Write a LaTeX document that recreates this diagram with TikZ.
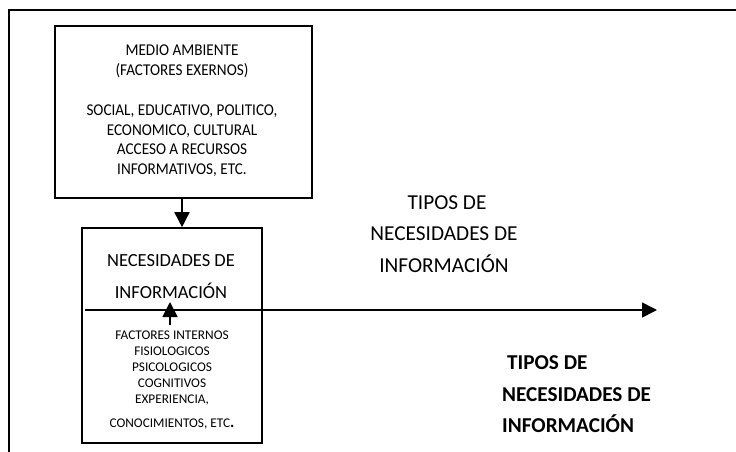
\documentclass[tikz,border=0pt]{standalone}
\usepackage{fontspec}
\setmainfont{Carlito}
\newfontfamily\topfont{Carlito}[FakeStretch=0.92]
\usetikzlibrary{arrows.meta}
\tikzset{
  boxnode/.style={draw, line width=1.6pt, inner sep=0pt},
  linetxt/.style={inner sep=0pt, anchor=base},
  boldtxt/.style={inner sep=0pt, anchor=base west, font=\fontsize{21.2}{25}\selectfont\bfseries},
  rtxt/.style={linetxt, font=\fontsize{21.3}{25}\selectfont},
  toptxt/.style={linetxt, font=\topfont\fontsize{16.5}{19.5}\selectfont},
  bigtxt/.style={linetxt, font=\fontsize{18.5}{22}\selectfont},
  smalltxt/.style={linetxt, font=\fontsize{13.3}{16}\selectfont},
  conn/.style={line width=1.6pt, -{Triangle[length=15pt,width=15pt]}},
}
\begin{document}
\begin{tikzpicture}[x=1pt,y=-1pt]
\useasboundingbox (0,0) rectangle (736,452);
% outer frame (open at right and bottom)
\coordinate (fa) at (9,452);
\coordinate (fb) at (9,10);
\coordinate (fc) at (740,10);
\draw[line width=1.8pt] (fa) -- (fb) -- (fc);
% boxes
\node[boxnode, minimum width=257pt, minimum height=172pt] (env) at (183.5,112) {};
\node[boxnode, minimum width=180pt, minimum height=215pt] (nec) at (172,335.5) {};
% top box text
\node[toptxt] (t1) at (182,55.5) {MEDIO AMBIENTE};
\node[toptxt] (t2) at (182,75.5) {(FACTORES EXERNOS)};
\node[toptxt] (t3) at (182,115.5) {SOCIAL, EDUCATIVO, POLITICO,};
\node[toptxt] (t4) at (182,135) {ECONOMICO, CULTURAL};
\node[toptxt] (t5) at (182,154.5) {ACCESO A RECURSOS};
\node[toptxt] (t6) at (182,174) {INFORMATIVOS, ETC.};
% second box text
\node[bigtxt] (n1) at (171,266.8) {NECESIDADES DE};
\node[bigtxt] (n2) at (171,298.7) {INFORMACIÓN};
\node[smalltxt] (s1) at (172,339.3) {FACTORES INTERNOS};
\node[smalltxt] (s2) at (172,355.3) {FISIOLOGICOS};
\node[smalltxt] (s3) at (172,371.3) {PSICOLOGICOS};
\node[smalltxt] (s4) at (172,387.3) {COGNITIVOS};
\node[smalltxt] (s5) at (172,403.3) {EXPERIENCIA,};
\node[smalltxt] (s6) at (172,427) {CONOCIMIENTOS, ETC{\fontsize{16}{16}\selectfont\bfseries .}};
% right text
\node[rtxt] (r1) at (447,209) {TIPOS DE};
\node[rtxt] (r2) at (444,240.7) {NECESIDADES DE};
\node[rtxt] (r3) at (444,272.4) {INFORMACIÓN};
% bold text
\node[boldtxt] (b1) at (507,369.6) {TIPOS DE};
\node[boldtxt] (b2) at (502,401.3) {NECESIDADES DE};
\node[boldtxt] (b3) at (502,432.3) {INFORMACIÓN};
% connectors
\draw[conn] (env.south -| 182,0) -- (nec.north -| 182,0);
\coordinate (hs) at (85,310);
\coordinate (he) at (657,310);
\draw[conn] (hs) -- (he);
\coordinate (us) at (170,325);
\coordinate (ue) at (170,302);
\draw[conn] (us) -- (ue);
\end{tikzpicture}
\end{document}
